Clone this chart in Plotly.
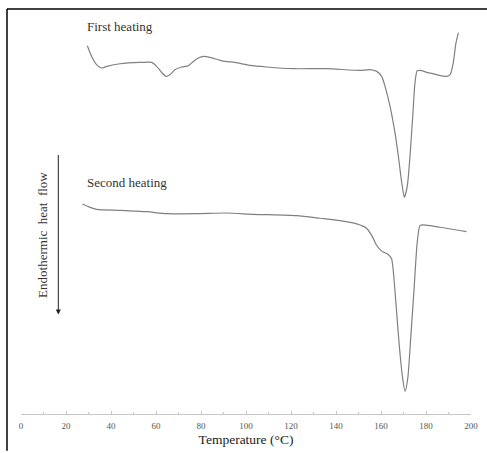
import plotly.graph_objects as go

# First heating: temperature (°C) and heat flow (arbitrary units, up = exothermic)
t_first = [29.5, 31.4, 33.9, 35.9, 38.1, 44.0, 52.9, 58.1, 60.3, 62.5, 64.4, 66.2, 68.4, 71.4,
           74.4, 76.6, 78.8, 81.3, 84.0, 87.7, 90.7, 95.1, 101.8, 109.2, 121.0, 135.9, 150.7,
           155.1, 158.1, 160.3, 161.8, 164.0, 166.2, 167.7, 169.2, 170.4, 171.7, 172.9, 174.1,
           175.1, 176.1, 178.1, 180.3, 183.0, 186.2, 189.2, 190.7, 192.1, 193.3, 194.4]
hf_first = [370.0, 359.3, 350.3, 347.7, 349.3, 352.0, 353.3, 353.3, 349.3, 343.3, 339.3, 341.0,
            346.0, 348.7, 350.0, 354.3, 357.7, 359.3, 358.3, 356.0, 354.3, 353.3, 350.3, 348.7,
            347.0, 347.0, 345.3, 346.0, 344.3, 339.3, 329.3, 309.3, 282.7, 259.3, 232.7, 217.7,
            229.3, 259.3, 299.3, 332.7, 345.0, 345.0, 343.3, 342.0, 340.0, 339.3, 341.0, 352.7,
            372.7, 383.3]

# Second heating
t_second = [27.3, 30.7, 33.6, 44.0, 55.9, 64.8, 78.1, 91.4, 103.3, 122.5, 132.9, 141.8, 149.2,
            153.6, 155.9, 158.1, 160.3, 163.2, 164.7, 165.5, 166.7, 168.1, 169.6, 170.7, 171.9,
            173.2, 174.7, 176.1, 177.3, 178.8, 186.2, 198.0]
hf_second = [211.0, 207.7, 205.7, 204.7, 203.3, 201.3, 201.3, 202.0, 200.7, 199.3, 196.7, 194.3,
             191.0, 186.7, 179.3, 169.3, 163.7, 160.3, 156.0, 142.7, 109.3, 69.3, 36.0, 22.7,
             36.0, 76.0, 126.0, 172.7, 189.3, 190.0, 187.7, 183.3]

x_ticks = [0, 20, 40, 60, 80, 100, 120, 140, 160, 180, 200]

W, H = 487, 453
ML, MR, MT, MB = 21, 16, 9, 37
PW, PH = W - ML - MR, H - MT - MB
Y_MAX = 407

def px(xpix):
    return (xpix - ML) / PW

def py(ypix):
    return (H - MB - ypix) / PH

serif = "Liberation Serif, Times New Roman, serif"
curve_color = "#808080"

fig = go.Figure()
fig.add_trace(go.Scatter(x=t_first, y=hf_first, mode="lines", line=dict(color=curve_color, width=1.2, shape="spline", smoothing=0.6),
                         showlegend=False, hoverinfo="skip"))
fig.add_trace(go.Scatter(x=t_second, y=hf_second, mode="lines", line=dict(color=curve_color, width=1.2, shape="spline", smoothing=0.6),
                         showlegend=False, hoverinfo="skip"))

fig.update_layout(
    width=W, height=H,
    margin=dict(l=ML, r=MR, t=MT, b=MB),
    paper_bgcolor="white", plot_bgcolor="white",
    font=dict(family=serif, color="#222"),
    xaxis=dict(range=[0, 200], tickvals=x_ticks, ticktext=[str(v) for v in x_ticks],
               showgrid=False, zeroline=False, showline=True, linecolor="#c8c8c8", linewidth=1,
               ticks="inside", ticklen=3, tickcolor="#c8c8c8",
               minor=dict(ticks="inside", ticklen=2, dtick=10, tickcolor="#c8c8c8"),
               ticklabelstandoff=3,
               tickfont=dict(family=serif, size=9, color="#555555"),
               title=dict(text="Temperature (°C)", font=dict(family=serif, size=13.5, color="#222"), standoff=4)),
    yaxis=dict(range=[0, Y_MAX], visible=False),
    shapes=[
        dict(type="line", xref="paper", yref="paper", x0=px(7), x1=px(487), y0=py(9), y1=py(9),
             line=dict(color="black", width=1.5)),
        dict(type="line", xref="paper", yref="paper", x0=px(7), x1=px(7), y0=py(9), y1=py(453),
             line=dict(color="black", width=1.5)),
    ],
    annotations=[
        dict(text="First heating", xref="paper", yref="paper", x=px(85), y=py(27), xanchor="left", yanchor="middle",
             showarrow=False, font=dict(family=serif, size=13, color="#333")),
        dict(text="Second heating", xref="paper", yref="paper", x=px(85), y=py(183), xanchor="left", yanchor="middle",
             showarrow=False, font=dict(family=serif, size=13, color="#333")),
        dict(text="Endothermic  heat  flow", xref="paper", yref="paper", x=px(43), y=py(236), xanchor="center", yanchor="middle",
             textangle=-90, showarrow=False, font=dict(family=serif, size=13, color="#333")),
        dict(text="", xref="paper", yref="paper", x=px(58.3), y=py(316), ax=0, ay=-161,
             axref="pixel", ayref="pixel", showarrow=True, arrowhead=2, arrowsize=1, arrowwidth=1, arrowcolor="#222"),
    ],
)

fig.write_html("out.html", config={"displayModeBar": False},
               post_script="document.body.style.margin='0';document.body.style.overflow='hidden';")
